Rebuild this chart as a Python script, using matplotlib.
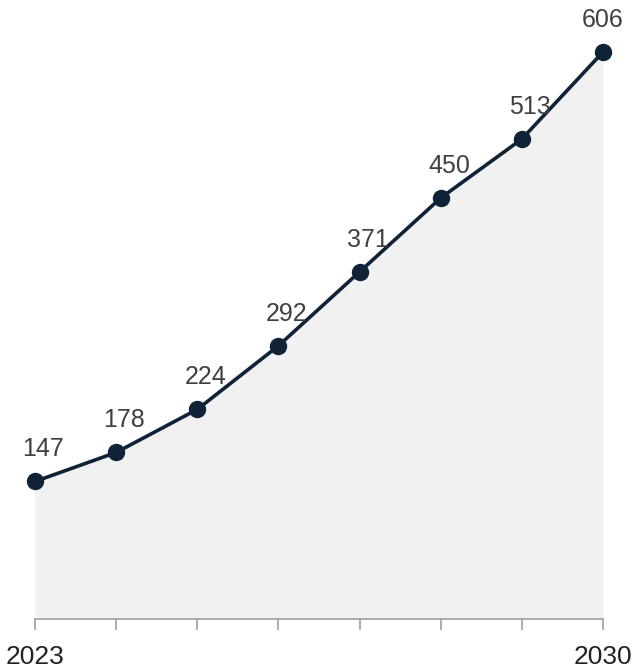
import matplotlib
matplotlib.use("Agg")
import matplotlib.pyplot as plt

years = [2023, 2024, 2025, 2026, 2027, 2028, 2029, 2030]
values = [147, 178, 224, 292, 371, 450, 513, 606]
tick_labels = ["2023", "", "", "", "", "", "", "2030"]

plt.rcParams['font.family'] = ['Liberation Sans', 'DejaVu Sans']

fig = plt.figure(figsize=(6.39, 6.68), dpi=100)
ax = fig.add_axes([35/639, 49/668, 568/639, 567/668])

line_color = "#0f2236"
ax.fill_between(years, values, 0, color="#f1f1f1", linewidth=0, zorder=1)
ax.plot(years, values, color=line_color, linewidth=2.6, zorder=3, clip_on=False,
        marker="o", markersize=11.5, markerfacecolor=line_color, markeredgecolor=line_color)

for i, (x, v) in enumerate(zip(years, values)):
    dx = 0 if i == len(years) - 1 else 6
    ax.annotate(str(v), (x, v), xytext=(dx, 18), textcoords="offset points",
                ha="center", va="baseline", fontsize=18, color="#404040",
                annotation_clip=False)

ax.set_xlim(years[0], years[-1])
ax.set_ylim(0, values[-1])
ax.set_xticks(years)
ax.set_xticklabels(tick_labels)
ax.set_yticks([])
for s in ["top", "right", "left"]:
    ax.spines[s].set_visible(False)
ax.spines["bottom"].set_color("#a0a0a0")
ax.spines["bottom"].set_linewidth(1.2)
ax.tick_params(axis="x", length=8, width=1.2, color="#a0a0a0", pad=11,
               labelsize=19, labelcolor="#222222")

fig.savefig("out.png", dpi=100)
